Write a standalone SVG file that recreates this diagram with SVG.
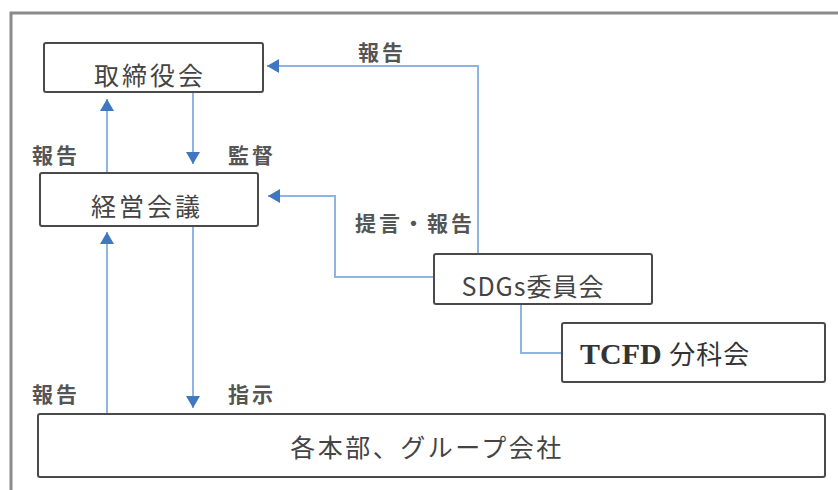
<svg xmlns="http://www.w3.org/2000/svg" width="838" height="490" viewBox="0 0 838 490">
<style>
.box{fill:#fff;stroke:#4a4a4a;stroke-width:2}
.bt{font-family:"Noto Sans CJK JP","Noto Sans",sans-serif;font-size:25px;fill:#444;text-anchor:middle}
.lb{font-family:"Noto Sans CJK JP","Noto Sans",sans-serif;font-size:21px;font-weight:bold;fill:#555;letter-spacing:3px}
.ln{fill:none;stroke:#8FB3E2;stroke-width:2}
</style>
<defs>
<marker id="ah" markerUnits="userSpaceOnUse" markerWidth="14" markerHeight="14" refX="12" refY="7" orient="auto">
<path d="M0,0 L12,7 L0,14 z" fill="#3F78C0"/>
</marker>
</defs>
<rect width="838" height="490" fill="#fff"/>
<path d="M11,490 V13 H838" fill="none" stroke="#8a8a8a" stroke-width="3"/>
<g id="connectors">
<path class="ln" d="M107,173 V99" marker-end="url(#ah)"/>
<path class="ln" d="M193,92 V164" marker-end="url(#ah)"/>
<path class="ln" d="M107,413 V232" marker-end="url(#ah)"/>
<path class="ln" d="M193,226 V408" marker-end="url(#ah)"/>
<path class="ln" d="M478,254 V66 H267" marker-end="url(#ah)"/>
<path class="ln" d="M434,277 H335 V196 H268" marker-end="url(#ah)"/>
<path class="ln" d="M521,304 V353 H562"/>
</g>
<g id="labels">
<text class="lb" x="32" y="163">報告</text>
<text class="lb" x="228" y="163">監督</text>
<text class="lb" x="32" y="402">報告</text>
<text class="lb" x="228" y="402">指示</text>
<text class="lb" x="358" y="60">報告</text>
<text class="lb" x="355" y="231">提言・報告</text>
</g>
<g id="board">
<rect class="box" x="44" y="43" width="219" height="49" rx="2"/>
<text class="bt" x="150" y="85" letter-spacing="3">取締役会</text>
</g>
<g id="management">
<rect class="box" x="40" y="173" width="218" height="53" rx="2"/>
<text class="bt" x="147" y="216" letter-spacing="3">経営会議</text>
</g>
<g id="sdgs">
<rect class="box" x="434" y="254" width="218" height="50" rx="2"/>
<text class="bt" x="533" y="296" font-size="26" letter-spacing="1">SDGs委員会</text>
</g>
<g id="tcfd">
<rect class="box" x="562" y="323" width="263" height="59" rx="2"/>
<text x="580" y="364" font-family="'Liberation Serif','Noto Sans CJK JP',serif" font-size="30" font-weight="bold" fill="#333">TCFD <tspan font-weight="normal" font-size="26" letter-spacing="1" font-family="'Noto Sans CJK JP',serif">分科会</tspan></text>
</g>
<g id="divisions">
<rect class="box" x="38" y="414" width="787" height="63" rx="2"/>
<text class="bt" x="427" y="457" font-size="26" letter-spacing="2.5">各本部、グループ会社</text>
</g>
</svg>
